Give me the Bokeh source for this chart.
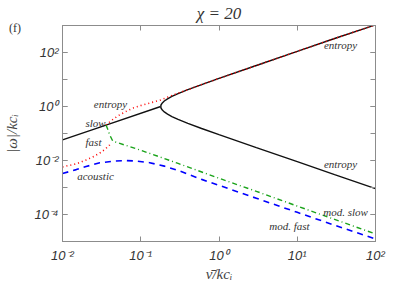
from bokeh.plotting import figure
from bokeh.models import LogAxis, FixedTicker, Label, Range1d, CustomJSTickFormatter
from bokeh.embed import file_html
from bokeh.resources import INLINE

# ---- data ----
slow_nu = [0.01, 0.036, 0.18]
slow_w = [0.058, 0.205, 1.0]

ent_hi_nu = [0.18, 0.182, 0.19, 0.2, 0.22, 0.25, 0.3, 0.4, 0.6, 1, 3, 10, 30, 100]
ent_hi_w = [1.0, 1.16, 1.39, 1.6, 1.92, 2.35, 3.0, 4.2, 6.5, 11.0, 33.0, 110.0, 330.0, 1050.0]

ent_lo_nu = [0.18, 0.182, 0.19, 0.2, 0.22, 0.25, 0.3, 0.4, 0.6, 1, 3, 10, 30, 100]
ent_lo_w = [1.0, 0.86, 0.72, 0.63, 0.52, 0.425, 0.333, 0.238, 0.153, 0.091, 0.030, 0.0091, 0.0030, 0.00091]

red_hi_nu = [0.036, 0.042, 0.051, 0.065, 0.081, 0.1, 0.135, 0.18, 0.25, 0.35, 0.6, 1, 3, 10, 30, 100]
red_hi_w = [0.205, 0.30, 0.45, 0.66, 0.89, 1.08, 1.38, 1.75, 2.55, 3.65, 6.5, 11.0, 33.0, 110.0, 330.0, 1050.0]

red_lo_nu = [0.01, 0.015, 0.02, 0.025, 0.03, 0.035, 0.04, 0.042]
red_lo_w = [0.0058, 0.0075, 0.0105, 0.014, 0.019, 0.026, 0.038, 0.045]

green_nu = [0.036, 0.038, 0.04, 0.044, 0.1, 0.3, 1, 3, 10, 30, 100]
green_w = [0.205, 0.14, 0.09, 0.052, 0.024, 0.0078, 0.0022, 0.00072, 0.000205, 0.000066, 0.000019]

blue_nu = [0.01, 0.015, 0.02, 0.03, 0.045, 0.065, 0.09, 0.13, 0.2, 0.3, 0.6, 1, 3, 10, 30, 100]
blue_w = [0.0033, 0.0046, 0.006, 0.0082, 0.0095, 0.0099, 0.0095, 0.0083, 0.0062, 0.0043, 0.002,
          0.0012, 0.0004, 0.00012, 0.00004, 0.0000125]

x_ticks = [1e-2, 1e-1, 1, 10, 100]
y_ticks = [1e-4, 1e-2, 1, 1e2]
y_minor = [1e-5, 1e-4, 1e-3, 1e-2, 1e-1, 1, 10, 100, 1000]

title_text = "\u03c7 = 20"
panel_tag = "(f)"
x_label = "\u03bd\u0304/kc\u1d62"
y_label = "|\u03c9|/kc\u1d62"

labels = [
    ("entropy", 35.7, 184.0),
    ("entropy", 0.041, 1.25),
    ("slow", 0.0264, 0.25),
    ("fast", 0.0249, 0.050),
    ("acoustic", 0.0264, 0.00258),
    ("entropy", 35.7, 0.00713),
    ("mod. slow", 41.4, 1.22e-4),
    ("mod. fast", 7.96, 3.75e-5),
]

AX = "#8c8c8c"

p = figure(width=405, height=290, x_axis_type="log", y_axis_type="log",
           x_range=Range1d(0.01, 100), y_range=Range1d(1e-5, 1e3),
           output_backend="svg", toolbar_location=None,
           min_border_left=62, min_border_right=30, min_border_top=24, min_border_bottom=49)
p.xgrid.visible = False
p.ygrid.visible = False
p.outline_line_color = AX
p.background_fill_color = "white"
p.border_fill_color = "white"

fmt = CustomJSTickFormatter(code="""
const e = Math.round(Math.log10(tick));
const sup = {"-":"\u207b","0":"\u2070","1":"\u00b9","2":"\u00b2","3":"\u00b3","4":"\u2074","5":"\u2075"};
return "10" + String(e).split("").map(c => sup[c]).join("");
""")
blank = CustomJSTickFormatter(code="return '';")

def style(ax, ticker, formatter, show):
    ax.ticker = ticker
    ax.formatter = formatter
    ax.axis_line_color = AX
    ax.major_tick_line_color = AX
    ax.minor_tick_line_color = AX
    ax.major_tick_in = 5
    ax.major_tick_out = 0
    ax.minor_tick_in = 5
    ax.minor_tick_out = 0
    ax.major_label_text_font = "Liberation Sans"
    ax.major_label_text_font_style = "italic"
    ax.major_label_text_color = "#333333"
    ax.major_label_text_font_size = "13px" if show else "0px"
    ax.major_label_standoff = 5 if show else 0
    ax.axis_label_text_font = "Liberation Serif"
    ax.axis_label_text_font_style = "italic"
    ax.axis_label_text_color = "#444444"

xt = FixedTicker(ticks=x_ticks, minor_ticks=[])
yt = FixedTicker(ticks=y_ticks, minor_ticks=y_minor)
style(p.xaxis[0], xt, fmt, True)
style(p.yaxis[0], yt, fmt, True)
p.xaxis[0].major_label_standoff = 6
p.yaxis[0].major_label_standoff = 4
p.xaxis[0].axis_label = x_label
p.xaxis[0].axis_label_text_font_size = "15px"
p.xaxis[0].axis_label_standoff = 0
p.yaxis[0].axis_label = y_label
p.yaxis[0].axis_label_text_font_size = "15px"
p.yaxis[0].axis_label_standoff = 11

top = LogAxis()
style(top, FixedTicker(ticks=x_ticks, minor_ticks=[]), blank, False)
top.axis_label = title_text
top.axis_label_text_font_size = "17px"
top.axis_label_standoff = 3
top.axis_label_text_color = "#333333"
p.add_layout(top, "above")
right = LogAxis()
style(right, FixedTicker(ticks=y_ticks, minor_ticks=y_minor), blank, False)
p.add_layout(right, "right")

p.line(slow_nu, slow_w, line_color="#111111", line_width=1.4)
p.line(ent_hi_nu, ent_hi_w, line_color="#111111", line_width=1.4)
p.line(ent_lo_nu, ent_lo_w, line_color="#111111", line_width=1.4)
p.line(red_hi_nu, red_hi_w, line_color="#ff0000", line_width=1.6, line_dash="1 3")
p.line(red_lo_nu, red_lo_w, line_color="#ff0000", line_width=1.6, line_dash="1 3")
p.line(green_nu, green_w, line_color="#1aa31a", line_width=1.4, line_dash="5 3 1 3")
p.line(blue_nu, blue_w, line_color="#0000ff", line_width=1.6, line_dash="6 5")

for t, x, y in labels:
    p.add_layout(Label(x=x, y=y, text=t, text_font="Liberation Serif", text_font_style="italic",
                       text_font_size="11px", text_align="center", text_baseline="middle",
                       text_color="#333333"))

# panel tag outside the frame (placed in a side panel so it is not clipped)
p.add_layout(Label(x=0.00247, y=843.0, text=panel_tag,
                   text_font="Liberation Serif", text_font_size="12px",
                   text_align="center", text_baseline="middle", text_color="#333333"), "right")

open("out.html", "w").write(file_html(p, INLINE))
